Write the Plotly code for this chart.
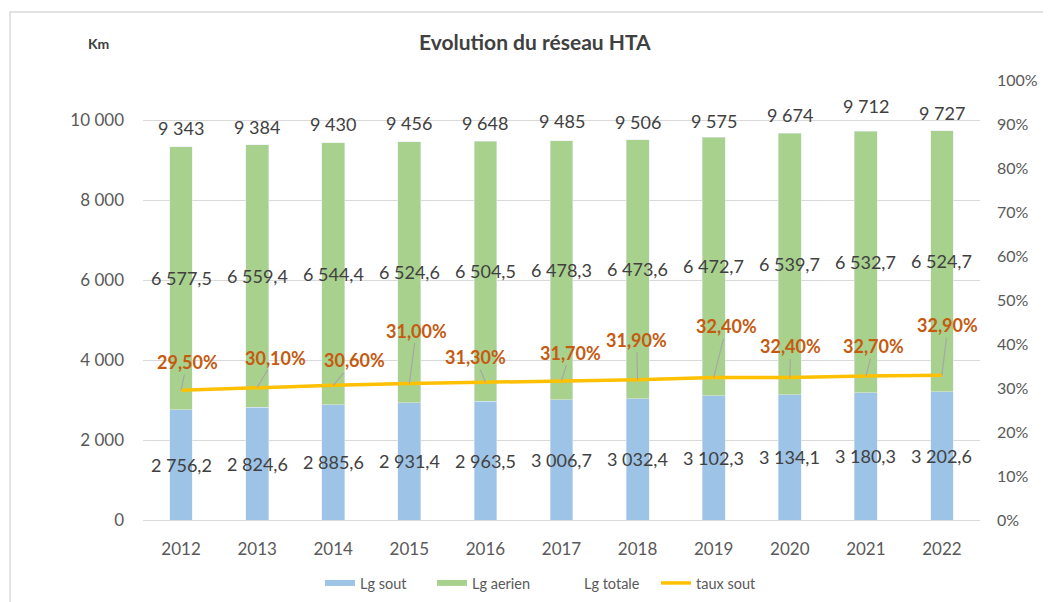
import plotly.graph_objects as go

years = ["2012", "2013", "2014", "2015", "2016", "2017", "2018", "2019", "2020", "2021", "2022"]
lg_sout = [2756.2, 2824.6, 2885.6, 2931.4, 2963.5, 3006.7, 3032.4, 3102.3, 3134.1, 3180.3, 3202.6]
lg_aerien = [6577.5, 6559.4, 6544.4, 6524.6, 6504.5, 6478.3, 6473.6, 6472.7, 6539.7, 6532.7, 6524.7]
lg_totale = [9343, 9384, 9430, 9456, 9648, 9485, 9506, 9575, 9674, 9712, 9727]
taux_sout = [0.295, 0.301, 0.306, 0.310, 0.313, 0.317, 0.319, 0.324, 0.324, 0.327, 0.329]

sout_labels = ["2 756,2", "2 824,6", "2 885,6", "2 931,4", "2 963,5", "3 006,7", "3 032,4", "3 102,3", "3 134,1", "3 180,3", "3 202,6"]
aerien_labels = ["6 577,5", "6 559,4", "6 544,4", "6 524,6", "6 504,5", "6 478,3", "6 473,6", "6 472,7", "6 539,7", "6 532,7", "6 524,7"]
totale_labels = ["9 343", "9 384", "9 430", "9 456", "9 648", "9 485", "9 506", "9 575", "9 674", "9 712", "9 727"]
taux_labels = ["29,50%", "30,10%", "30,60%", "31,00%", "31,30%", "31,70%", "31,90%", "32,40%", "32,40%", "32,70%", "32,90%"]

# label placement offsets (pixels)
taux_dx = [6, 18, 21, 7, -10, 9, -1, 13, 1, 8, 6]
taux_dy = [-28, -30, -25, -53, -25, -28, -40, -51, -31, -30, -50]
tot_shift = [18, 18, 19, 19, 11, 20, 18, 16, 18, 26, 18]

FONT = "Lato"
BLUE = "#9DC3E6"
GREEN = "#A9D18E"
GOLD = "#FFC000"
ORANGE = "#C55A11"
LABEL = "#404040"
AXIS = "#595959"
GRID = "#D9D9D9"

fig = go.Figure()
fig.add_trace(go.Bar(x=years, y=lg_sout, name="Lg sout", marker_color=BLUE, yaxis="y",
                     showlegend=False, legendgroup="sout"))
fig.add_trace(go.Bar(x=years, y=lg_aerien, name="Lg aerien", marker_color=GREEN, yaxis="y",
                     showlegend=False, legendgroup="aerien"))
fig.add_trace(go.Scatter(x=years, y=lg_totale, name="Lg totale", mode="lines",
                         line=dict(color="rgba(0,0,0,0)", width=3), yaxis="y", showlegend=False,
                         legendgroup="tot"))
fig.add_trace(go.Scatter(x=years, y=taux_sout, name="taux sout", mode="lines",
                         line=dict(color=GOLD, width=3.5), yaxis="y2", showlegend=False,
                         legendgroup="taux"))
# legend entries (wide swatches like the original)
fig.add_trace(go.Scatter(x=[None], y=[None], name="Lg sout", mode="lines",
                         line=dict(color=BLUE, width=6), legendgroup="sout"))
fig.add_trace(go.Scatter(x=[None], y=[None], name="Lg aerien", mode="lines",
                         line=dict(color=GREEN, width=6), legendgroup="aerien"))
fig.add_trace(go.Scatter(x=[None], y=[None], name="Lg totale", mode="lines",
                         line=dict(color="rgba(0,0,0,0)", width=6), legendgroup="tot"))
fig.add_trace(go.Scatter(x=[None], y=[None], name="taux sout", mode="lines",
                         line=dict(color=GOLD, width=3.5), legendgroup="taux"))

ann = []
for i, yr in enumerate(years):
    ann.append(dict(x=i, y=lg_sout[i] / 2, xref="x", yref="y", text=sout_labels[i],
                    showarrow=False, font=dict(family=FONT, size=18, color=LABEL)))
    ann.append(dict(x=i, y=lg_sout[i] + lg_aerien[i] / 2, xref="x", yref="y", text=aerien_labels[i],
                    showarrow=False, font=dict(family=FONT, size=18, color=LABEL)))
    ann.append(dict(x=i, y=lg_totale[i], xref="x", yref="y", text=totale_labels[i],
                    showarrow=False, yshift=tot_shift[i], font=dict(family=FONT, size=18, color=LABEL)))
    ann.append(dict(x=i, y=taux_sout[i], xref="x", yref="y2", text="<b>" + taux_labels[i] + "</b>",
                    showarrow=True, arrowhead=0, arrowwidth=1.2, arrowcolor="#A6A6A6",
                    ax=taux_dx[i], ay=taux_dy[i], axref="pixel", ayref="pixel",
                    font=dict(family=FONT, size=18, color=ORANGE)))

# page body has an 8px margin: size the figure so it fits the 1051x602 window
OFF = 8
W, H = 1051 - OFF, 602 - OFF
PX0, PX1, PY0, PY1 = 143, 980, 80, 520   # plot area in window pixels
L, R, T, B = PX0 - OFF, W + OFF - PX1, PY0 - OFF, H + OFF - PY1
PW, PH = PX1 - PX0, PY1 - PY0

def px(x):
    return (x - PX0) / PW

def py(y):
    return (PY1 - y) / PH

ann.append(dict(text="<b>Evolution du réseau HTA</b>", xref="paper", yref="paper",
                x=px(535), y=py(41), xanchor="center", yanchor="middle", showarrow=False,
                font=dict(family=FONT, size=21, color="#404040")))
ann.append(dict(text="<b>Km</b>", xref="paper", yref="paper",
                x=px(98), y=py(43), xanchor="center", yanchor="middle", showarrow=False,
                font=dict(family=FONT, size=14, color="#404040")))

fig.update_layout(
    width=W, height=H,
    margin=dict(l=L, r=R, t=T, b=B, pad=0, autoexpand=False),
    paper_bgcolor="white", plot_bgcolor="white",
    barmode="stack", bargap=0.7,
    font=dict(family=FONT, color=AXIS),
    xaxis=dict(type="category", range=[-0.5, len(years) - 0.5], showgrid=False, showline=False, ticks="",
               tickfont=dict(size=17, color=AXIS), ticklabelstandoff=17, automargin=False),
    yaxis=dict(range=[0, 11000], dtick=2000, tickformat=",.0f", showgrid=True, gridcolor=GRID,
               gridwidth=1.2, zeroline=True, zerolinecolor=GRID, zerolinewidth=1.2,
               showline=False, ticks="", tickfont=dict(size=17, color=AXIS), ticklabelstandoff=18,
               automargin=False),
    yaxis2=dict(range=[0, 1], dtick=0.1, tickformat=".0%", overlaying="y", side="right",
                showgrid=False, zeroline=False, showline=False, ticks="",
                tickfont=dict(size=16, color=AXIS), ticklabelstandoff=16, automargin=False),
    separators=", ",
    legend=dict(orientation="h", x=px(320), xanchor="left", y=py(583),
                yanchor="middle", font=dict(family=FONT, size=14.5, color=AXIS),
                traceorder="normal", itemwidth=30, entrywidth=67, entrywidthmode="pixels",
                bgcolor="rgba(0,0,0,0)"),
    annotations=ann,
    shapes=[dict(type="rect", xref="paper", yref="paper",
                 x0=px(10), x1=1.2, y0=-0.5, y1=py(12),
                 line=dict(color=GRID, width=1.5), fillcolor="rgba(0,0,0,0)", layer="below")],
)

fig.write_html("out.html")
